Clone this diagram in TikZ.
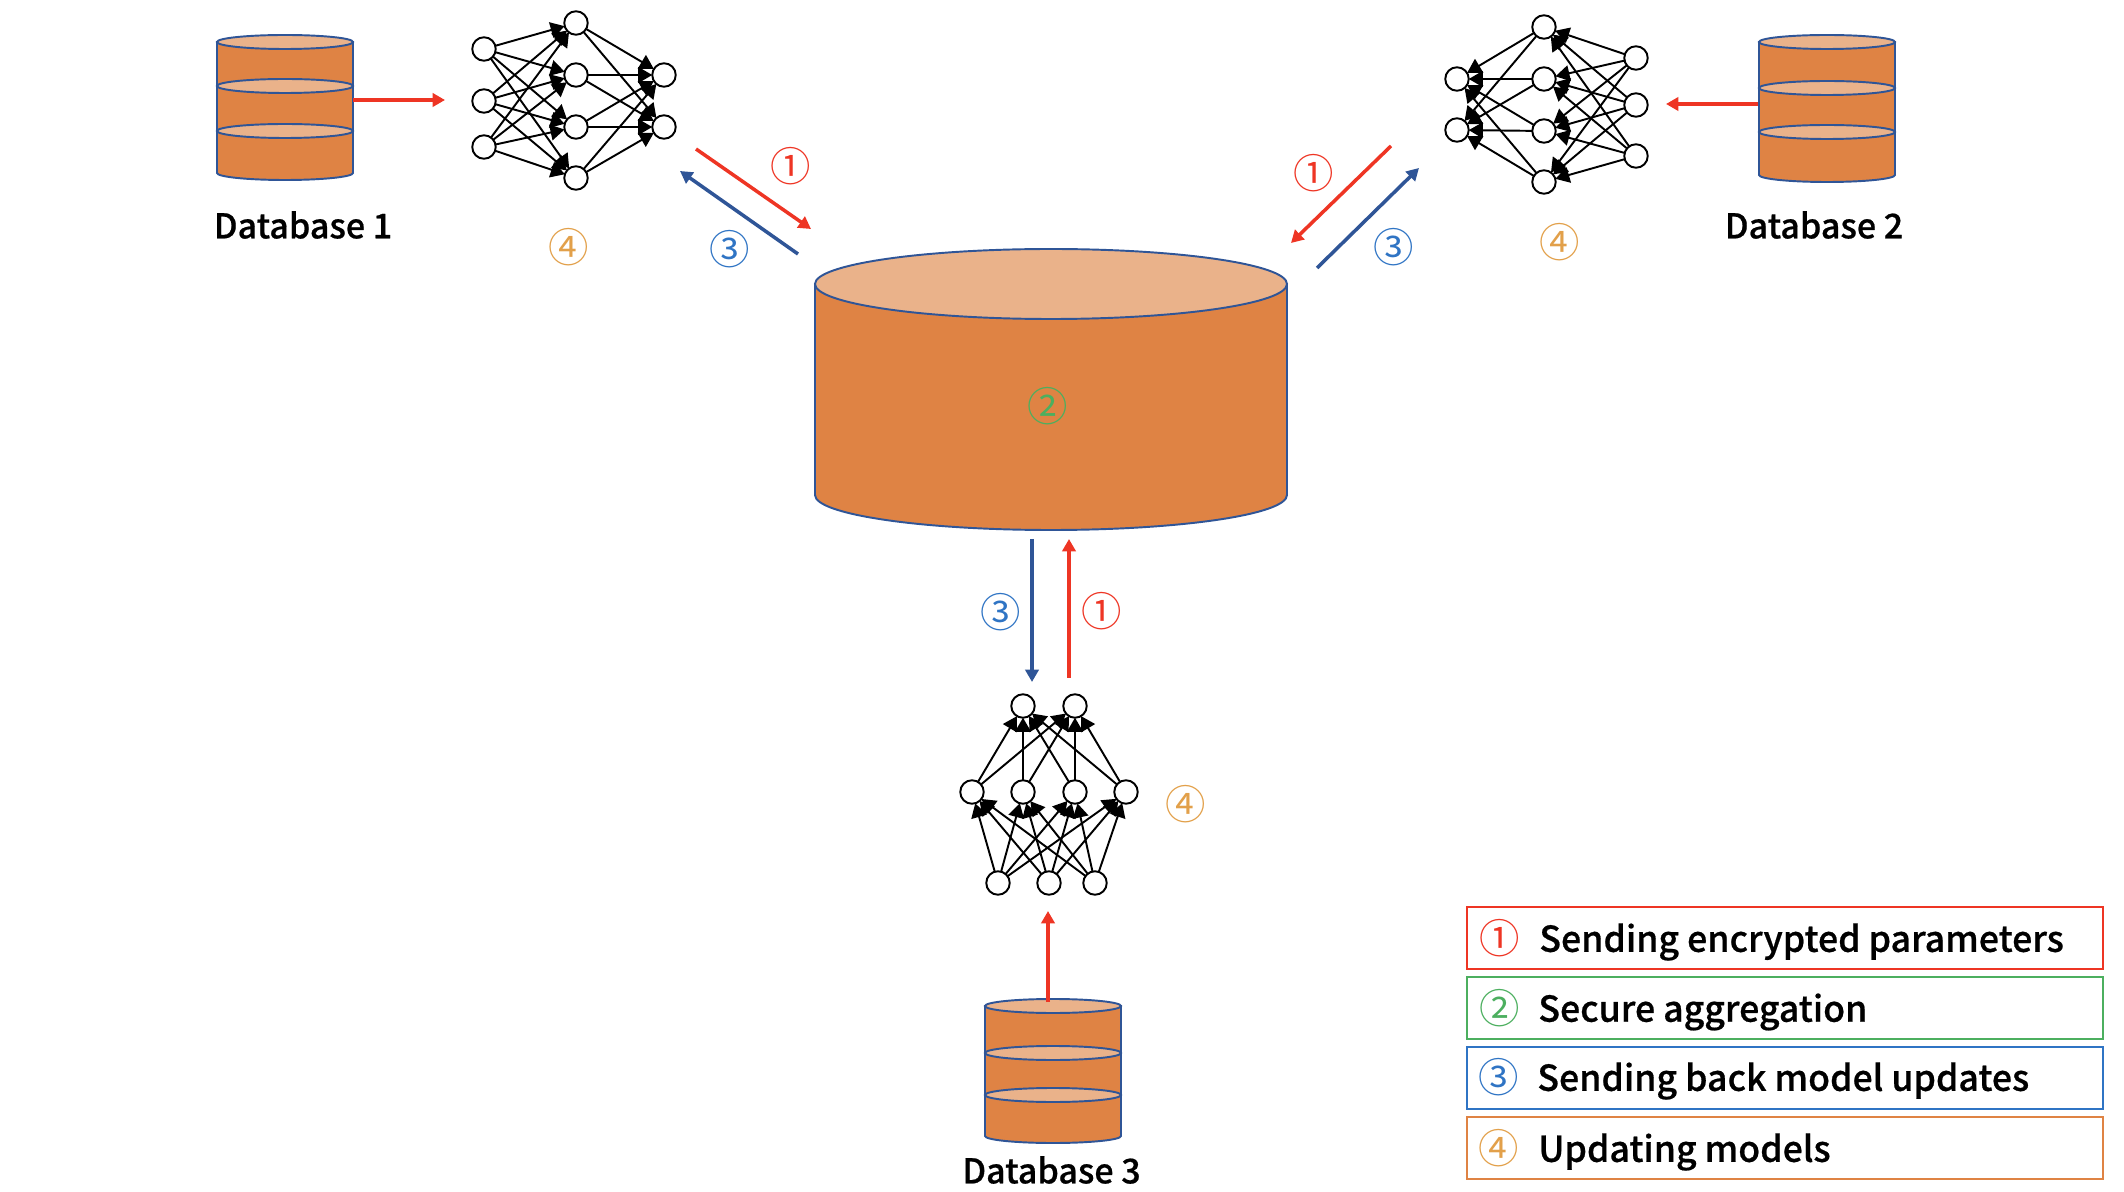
\documentclass[tikz,border=0pt]{standalone}
\usepackage{fontspec}
\setmainfont{Noto Sans CJK SC Medium}[RawFeature={embolden=0.6}]
\newfontfamily\cjk{Noto Sans CJK SC}
\usetikzlibrary{arrows.meta}
\definecolor{dborange}{HTML}{DF8344}
\definecolor{dbtop}{HTML}{EAB28A}
\definecolor{dbline}{HTML}{2F5597}
\definecolor{redline}{HTML}{EE3524}
\definecolor{blueline}{HTML}{2F5597}
\definecolor{numred}{HTML}{EE3524}
\definecolor{numgreen}{HTML}{4CAF5F}
\definecolor{numblue}{HTML}{2F74C4}
\definecolor{numorange}{HTML}{E2A04A}
\definecolor{boxorange}{HTML}{DF8344}
% x centre, top and bottom of the side, half width, half height of the end
\newcommand{\dbdisk}[5]{
  \filldraw[dbbody] (#1-#4,#2) -- (#1-#4,#3) arc (180:0:#4 and #5) -- (#1+#4,#2) -- cycle;
  \filldraw[dbend] (#1,#2) ellipse (#4 and #5);
}
\tikzset{
  dbbody/.style={draw=dbline, fill=dborange, line width=1.1pt},
  dbend/.style={draw=dbline, fill=dbtop, line width=1.1pt},
  neuron/.style={circle, draw=black, fill=white, line width=1.1pt, inner sep=0pt, outer sep=0pt, minimum size=0.47cm},
  netedge/.style={draw=black, line width=1.1pt, -{Triangle[length=8pt,width=9pt]}},
  toarrow/.style={line width=2pt, -{Triangle[length=7pt,width=7.5pt]}},
  dblabel/.style={font=\fontsize{19.4pt}{21pt}\selectfont, inner sep=0pt},
  legendtext/.style={anchor=west, font=\fontsize{20.3pt}{22pt}\selectfont, inner sep=0pt},
  legendbox/.style={draw, line width=1.1pt, minimum width=12.72cm, minimum height=1.24cm, inner sep=0pt},
  circnum/.style={font=\cjk\fontsize{23pt}{25pt}\selectfont, inner sep=0pt},
}
\begin{document}
\begin{tikzpicture}[x=0.02cm, y=-0.02cm]
  \useasboundingbox (0,0) rectangle (2124,1192);

  % central server
  \dbdisk{1051}{284}{495}{236}{35}
  \node[circnum, numgreen] (serverstep) at (1048,406) {②};

  % database 1
  \dbdisk{285}{42}{86}{68}{7}
  \dbdisk{285}{86}{131}{68}{7}
  \dbdisk{285}{131}{173}{68}{7}
  \node[dblabel] (dbalabel) at (303,225) {Database 1};

  % database 2
  \dbdisk{1827}{42}{88}{68}{7}
  \dbdisk{1827}{88}{132}{68}{7}
  \dbdisk{1827}{132}{175}{68}{7}
  \node[dblabel] (dbblabel) at (1814,225) {Database 2};

  % database 3
  \dbdisk{1053}{1006}{1053}{68}{7}
  \dbdisk{1053}{1053}{1095}{68}{7}
  \dbdisk{1053}{1095}{1136}{68}{7}
  \node[dblabel] (dbclabel) at (1051.5,1170) {Database 3};

  % network 1
  \foreach \n/\y in {1/49,2/101,3/147} {
    \node[neuron] (ain\n) at (484,\y) {};
  }
  \foreach \n/\y in {1/23,2/75,3/127,4/178} {
    \node[neuron] (amid\n) at (576,\y) {};
  }
  \foreach \n/\y in {1/75,2/127} {
    \node[neuron] (aout\n) at (664,\y) {};
  }
  \foreach \i in {1,2,3} {
    \foreach \j in {1,2,3,4} {
      \draw[netedge] (ain\i) -- (amid\j);
    }
  }
  \foreach \i in {1,2,3,4} {
    \foreach \j in {1,2} {
      \draw[netedge] (amid\i) -- (aout\j);
    }
  }

  % network 2
  \foreach \n/\y in {1/58,2/105,3/156} {
    \node[neuron] (bin\n) at (1636,\y) {};
  }
  \foreach \n/\y in {1/27,2/79,3/131,4/182} {
    \node[neuron] (bmid\n) at (1544,\y) {};
  }
  \foreach \n/\y in {1/79,2/130} {
    \node[neuron] (bout\n) at (1457,\y) {};
  }
  \foreach \i in {1,2,3} {
    \foreach \j in {1,2,3,4} {
      \draw[netedge] (bin\i) -- (bmid\j);
    }
  }
  \foreach \i in {1,2,3,4} {
    \foreach \j in {1,2} {
      \draw[netedge] (bmid\i) -- (bout\j);
    }
  }

  % network 3
  \foreach \n/\x in {1/998,2/1049,3/1095} {
    \node[neuron] (cin\n) at (\x,883) {};
  }
  \foreach \n/\x in {1/972,2/1023,3/1075,4/1126} {
    \node[neuron] (cmid\n) at (\x,792) {};
  }
  \foreach \n/\x in {1/1023,2/1075} {
    \node[neuron] (cout\n) at (\x,706) {};
  }
  \foreach \i in {1,2,3} {
    \foreach \j in {1,2,3,4} {
      \draw[netedge] (cin\i) -- (cmid\j);
    }
  }
  \foreach \i in {1,2,3,4} {
    \foreach \j in {1,2} {
      \draw[netedge] (cmid\i) -- (cout\j);
    }
  }

  % free ends of the arrows
  \coordinate (afrom) at (353,100);
  \coordinate (ato) at (445,100);
  \coordinate (bfrom) at (1758,104);
  \coordinate (bto) at (1666,104);
  \coordinate (cfrom) at (1048,1002);
  \coordinate (cto) at (1048,911);
  \coordinate (aup) at (696,149);
  \coordinate (asrv) at (811,229);
  \coordinate (asrvb) at (798,254);
  \coordinate (aback) at (680,171);
  \coordinate (bup) at (1391,146);
  \coordinate (bsrv) at (1291,243);
  \coordinate (bsrvb) at (1317,268);
  \coordinate (bback) at (1419,168);
  \coordinate (csrv) at (1032,539);
  \coordinate (cback) at (1032,682);
  \coordinate (cup) at (1069,678);
  \coordinate (csrvb) at (1069,539);

  % arrows
  \draw[toarrow, redline] (afrom) -- (ato);
  \draw[toarrow, redline] (bfrom) -- (bto);
  \draw[toarrow, redline] (cfrom) -- (cto);
  \draw[toarrow, redline] (aup) -- (asrv);
  \draw[toarrow, blueline] (asrvb) -- (aback);
  \draw[toarrow, redline] (bup) -- (bsrv);
  \draw[toarrow, blueline] (bsrvb) -- (bback);
  \draw[toarrow, blueline] (csrv) -- (cback);
  \draw[toarrow, redline] (cup) -- (csrvb);

  % step numbers beside the arrows
  \node[circnum, numred] (aone) at (791,166) {①};
  \node[circnum, numblue] (athree) at (730,249) {③};
  \node[circnum, numorange] (afour) at (569,247) {④};
  \node[circnum, numred] (bone) at (1314,173) {①};
  \node[circnum, numblue] (bthree) at (1394,247) {③};
  \node[circnum, numorange] (bfour) at (1560,242) {④};
  \node[circnum, numred] (cone) at (1102,611) {①};
  \node[circnum, numblue] (cthree) at (1001,612) {③};
  \node[circnum, numorange] (cfour) at (1186,804) {④};

  % legend
  \node[legendbox, draw=numred] (legenda) at (1785,938) {};
  \node[legendbox, draw=numgreen] (legendb) at (1785,1008) {};
  \node[legendbox, draw=numblue] (legendc) at (1785,1078) {};
  \node[legendbox, draw=boxorange] (legendd) at (1785,1148) {};
  \node[circnum, numred] (numa) at (1500,938) {①};
  \node[circnum, numgreen] (numb) at (1500,1008) {②};
  \node[circnum, numblue] (numc) at (1499,1077) {③};
  \node[circnum, numorange] (numd) at (1499,1148) {④};
  \node[legendtext] (texta) at (1539,942) {Sending encrypted parameters};
  \node[legendtext] (textb) at (1538,1012) {Secure aggregation};
  \node[legendtext] (textc) at (1537,1081) {Sending back model updates};
  \node[legendtext] (textd) at (1538,1152) {Updating models};
\end{tikzpicture}
\end{document}
